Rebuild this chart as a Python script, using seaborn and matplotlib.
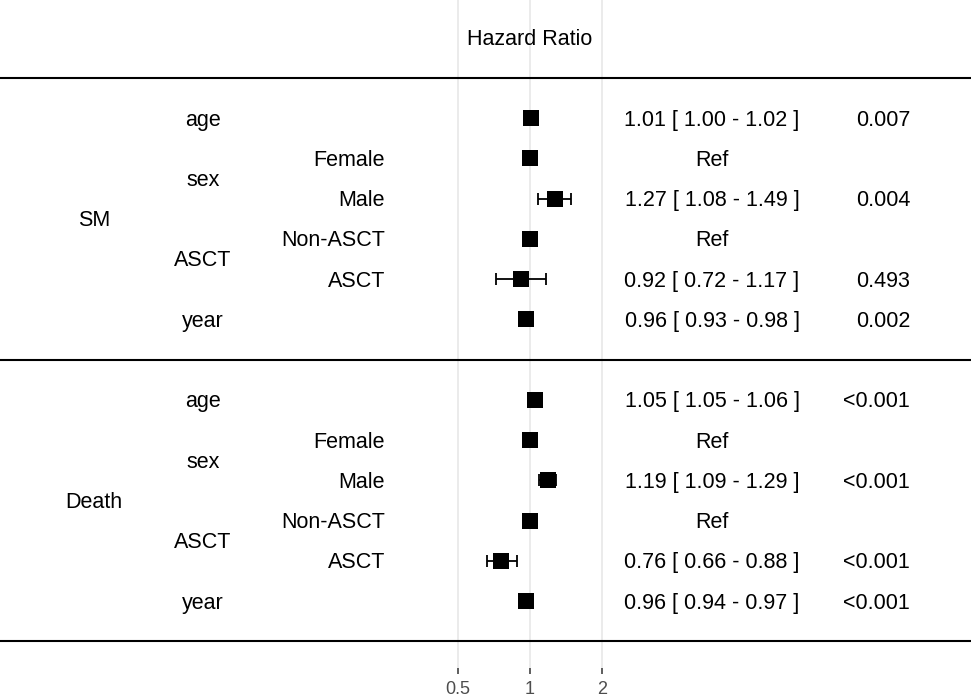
import numpy as np
import pandas as pd
import seaborn as sns
import matplotlib.pyplot as plt
from matplotlib.transforms import blended_transform_factory

# forest plot values
groups = ['SM', 'Death']
variables = ['age', 'sex', 'sex', 'ASCT', 'ASCT', 'year']
levels = ['', 'Female', 'Male', 'Non-ASCT', 'ASCT', '']
hr_sm = [1.01, 1.0, 1.27, 1.0, 0.92, 0.96]
lo_sm = [1.00, np.nan, 1.08, np.nan, 0.72, 0.93]
hi_sm = [1.02, np.nan, 1.49, np.nan, 1.17, 0.98]
p_sm = ['0.007', '', '0.004', '', '0.493', '0.002']
hr_death = [1.05, 1.0, 1.19, 1.0, 0.76, 0.96]
lo_death = [1.05, np.nan, 1.09, np.nan, 0.66, 0.94]
hi_death = [1.06, np.nan, 1.29, np.nan, 0.88, 0.97]
p_death = ['<0.001', '', '<0.001', '', '<0.001', '<0.001']
is_ref = [False, True, False, True, False, False]
x_ticks = [0.5, 1, 2]


def build_table():
    rows = []
    for g, (hr, lo, hi, p) in zip(groups, [(hr_sm, lo_sm, hi_sm, p_sm),
                                            (hr_death, lo_death, hi_death, p_death)]):
        for i in range(6):
            rows.append(dict(group=g, var=variables[i], level=levels[i], hr=hr[i],
                             lo=lo[i], hi=hi[i], p=p[i], ref=is_ref[i]))
    df = pd.DataFrame(rows)
    # row index: SM rows 2..7, separator 8, Death rows 9..14
    df['row'] = [2 + i for i in range(6)] + [9 + i for i in range(6)]
    return df


def main():
    df = build_table()
    sns.set_theme(style='whitegrid')
    plt.rcParams['font.family'] = ['Liberation Sans', 'DejaVu Sans']

    fig = plt.figure(figsize=(9.71, 6.97), dpi=100)
    ax = fig.add_axes([0, 1 - 668 / 697, 1, 668 / 697])
    ax.set_xscale('log', base=2)
    ax.set_xlim(2 ** (-530 / 72), 2 ** (441 / 72))
    ax.set_ylim((668 - 37.5) / 40.25, -37.5 / 40.25)

    for s in ax.spines.values():
        s.set_visible(False)
    ax.grid(False)
    ax.xaxis.grid(True, color='#EBEBEB', linewidth=1.4)
    ax.set_xticks(x_ticks)
    ax.set_xticklabels(['0.5', '1', '2'])
    ax.xaxis.set_minor_locator(plt.NullLocator())
    ax.tick_params(axis='x', bottom=True, length=4, width=1.1, color='#333333',
                   labelsize=13, labelcolor='#4D4D4D', pad=5)
    ax.set_yticks([])

    # confidence intervals
    ci = df[~df['ref']]
    ax.errorbar(ci['hr'], ci['row'], xerr=[ci['hr'] - ci['lo'], ci['hi'] - ci['hr']],
                fmt='none', ecolor='black', elinewidth=1.3, capsize=4, capthick=1.3, zorder=3)
    sns.scatterplot(data=df, x='hr', y='row', marker='s', s=120, color='black',
                    linewidth=0, ax=ax, zorder=4, legend=False)
    ax.set_xlabel('')
    ax.set_ylabel('')

    # separators
    for r in [1, 8, 15]:
        ax.axhline(r, color='black', linewidth=1.5, zorder=5)

    dy = 0.05  # text sits a touch below the row centre
    fs = 15.5
    txt = dict(va='center', fontsize=fs, color='black')
    ax.text(1, 0 + dy, 'Hazard Ratio', ha='center', **txt)

    tr = blended_transform_factory(ax.transAxes, ax.transData)
    for g, mid in zip(groups, [4.5, 11.5]):
        ax.text(94 / 971, mid + dy, g, transform=tr, ha='center', **txt)
    for _, row in df.iterrows():
        r = row['row'] + dy
        if row['var'] in ('age', 'year'):
            ax.text(203 / 971, r, row['var'], transform=tr, ha='center', **txt)
        if row['level']:
            ax.text(385 / 971, r, row['level'], transform=tr, ha='right', **txt)
        if row['ref']:
            label = 'Ref'
        else:
            label = f"{row['hr']:.2f} [ {row['lo']:.2f} - {row['hi']:.2f} ]"
        ax.text(712 / 971, r, label, transform=tr, ha='center', **txt)
        if row['p']:
            ax.text(910 / 971, r, row['p'], transform=tr, ha='right', **txt)
    for base in [2, 9]:
        ax.text(203 / 971, base + 1.5 + dy, 'sex', transform=tr, ha='center', **txt)
        ax.text(203 / 971, base + 3.5 + dy, 'ASCT', transform=tr, ha='center', **txt)

    fig.savefig('out.png', dpi=100)
    plt.close(fig)


if __name__ == '__main__':
    main()
